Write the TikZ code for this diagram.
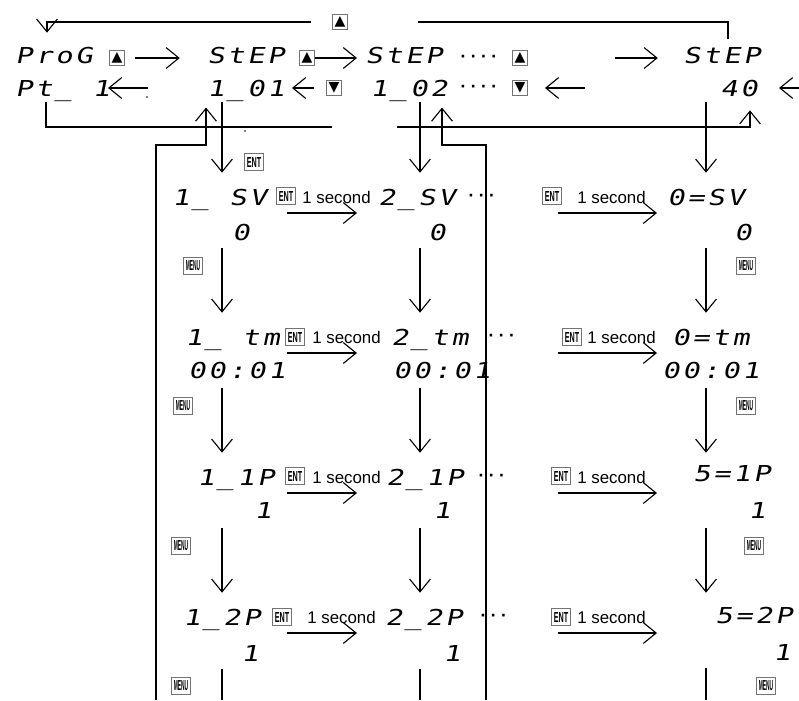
\documentclass[tikz,border=0pt]{standalone}
\usepackage{fontspec}
\setmainfont{Liberation Sans}
\newfontfamily\segfont[FakeSlant=0.2, FakeStretch=1.3, LetterSpace=13]{DejaVu Sans Mono}
\newfontfamily\symfont{DejaVu Sans}
\usetikzlibrary{positioning, calc, arrows.meta}
\tikzset{
  seg/.style={font=\segfont\fontsize{15.6}{16}\selectfont, inner sep=0pt, text height=11.4pt, text depth=0pt, anchor=west},
  segc/.style={seg, anchor=center},
  keybox/.style={draw=black!55, line width=0.5pt, inner sep=0pt, minimum width=0.47cm, minimum height=0.43cm, font=\bfseries},
  trikey/.style={draw=black!55, line width=0.5pt, inner sep=0pt, minimum size=0.37cm, font=\symfont\fontsize{10}{10}\selectfont},
  secnote/.style={font=\fontsize{12}{12}\selectfont, inner sep=0pt, anchor=west},
  dotrow/.style={font=\symfont\bfseries\fontsize{10}{10}\selectfont, inner sep=0pt, anchor=west},
  flow/.style={line width=0.8pt},
  arr/.style={flow, -{Straight Barb[length=3.2mm,width=5.2mm]}},
}
\newcommand\keylbl[1]{\resizebox{0.36cm}{0.25cm}{#1}}

\begin{document}
\begin{tikzpicture}[x=0.025cm, y=-0.025cm]
  \useasboundingbox (0,0) rectangle (799,700);
  %% columns, rows and loose ends
  \coordinate (colA) at (222,0);
  \coordinate (colB) at (420,0);
  \coordinate (colC) at (706,0);
  \coordinate (bottom) at (0,700);
  \coordinate (wallA) at (156,0);
  \coordinate (wallB) at (486,0);
  \coordinate (retA) at (206,145);
  \coordinate (retB) at (442,145);
  \coordinate (topR) at (728,0);
  \coordinate (topL) at (47,0);
  \coordinate (lowL) at (46,127);
  \coordinate (gapL) at (332,127);
  \coordinate (gapR) at (397,127);
  \coordinate (in40) at (750,127);
  \coordinate (ptTip) at (108,88);
  \coordinate (ptTail) at (148,88);
  \coordinate (oneTip) at (292,88);
  \coordinate (backB) at (585,88);
  \coordinate (edgeR) at (800,88);
  \coordinate (eA) at (287,0);
  \coordinate (eB) at (357,0);
  \coordinate (eC) at (558,0);
  \coordinate (eD) at (657,0);
  \coordinate (rSV) at (0,213);
  \coordinate (rTM) at (0,353);
  \coordinate (rIP) at (0,493);
  \coordinate (rTP) at (0,633);

  %% program / step selection rows
  \node[seg] (prog) at (15,55) {ProG};
  \node[trikey] (upA) at (117,58) {▲};
  \node[seg] (step1) at (207,55) {StEP};
  \node[trikey] (upB) at (307,58) {▲};
  \node[seg] (step2) at (365,55) {StEP};
  \node[dotrow] (dotsA) at (460,58) {· · · ·};
  \node[trikey] (upC) at (520,58) {▲};
  \node[seg] (step3) at (683,55) {StEP};
  \node[trikey] (upTop) at (340,22) {▲};
  \node[seg] (pt1) at (15,88) {Pt\_ 1};
  \node[seg] (s101) at (207,88) {1\_01};
  \node[trikey] (dnA) at (334,88) {▼};
  \node[seg] (s102) at (370,88) {1\_02};
  \node[dotrow] (dotsB) at (460,88) {· · · ·};
  \node[trikey] (dnB) at (520,88) {▼};
  \node[seg] (s40) at (720,88) {40};

  \draw[arr, shorten <=0.25cm, shorten >=0.68cm] (upA.east) -- (upA.east -| step1.west);
  \draw[arr, shorten >=0.2cm] (upB.east) -- (upB.east -| step2.west);
  \draw[arr, shorten <=2.18cm, shorten >=0.63cm] (upC.east) -- (upC.east -| step3.west);
  \draw[arr] (ptTail) -- (ptTip);
  \draw[arr, shorten <=0.3cm] (dnA.west) -- (oneTip);
  \draw[arr, shorten >=0.43cm] (backB) -- (dnB.east);
  \draw[arr] (edgeR) -- ++(-21,0);
  \fill (147,97) circle (0.6pt);
  \fill (245,131) circle (0.6pt);

  %% return loop to ProG
  \draw[flow, shorten <=0.2cm, shorten >=1.75cm] (step3.north -| topR) |- (upTop.east);
  \draw[arr, shorten <=0.53cm, shorten >=0.35cm] (upTop.west) -| (prog.north -| topL);
  %% Pt line to 40
  \draw[flow, shorten <=0.15cm] (pt1.south -| lowL) -- (lowL) -- (gapL);
  \draw[arr, shorten >=0.35cm] (gapR) -- (in40) -- (in40 |- s40.south);

  %% parameter columns
  \node[seg] (sv1) at (172,197) {1\_ SV};
  \node[seg] (sv2) at (378,197) {2\_SV};
  \node[seg] (sv3) at (667,197) {0=SV};
  \node[segc] (sv1v) at (241,232) {0};
  \node[segc] (sv2v) at (437,232) {0};
  \node[segc] (sv3v) at (743,232) {0};
  \node[seg] (tm1) at (185,337) {1\_ tm};
  \node[seg] (tm2) at (391,337) {2\_tm};
  \node[seg] (tm3) at (672,337) {0=tm};
  \node[seg] (tm1v) at (188,370) {00:01};
  \node[seg] (tm2v) at (393,370) {00:01};
  \node[seg] (tm3v) at (662,370) {00:01};
  \node[seg] (ip1) at (197,477) {1\_1P};
  \node[seg] (ip2) at (386,477) {2\_1P};
  \node[seg] (ip3) at (693,473) {5=1P};
  \node[segc] (ip1v) at (263,510) {1};
  \node[segc] (ip2v) at (442,510) {1};
  \node[segc] (ip3v) at (757,510) {1};
  \node[seg] (tp1) at (183,617) {1\_2P};
  \node[seg] (tp2) at (385,617) {2\_2P};
  \node[seg] (tp3) at (715,615) {5=2P};
  \node[segc] (tp1v) at (250,653) {1};
  \node[segc] (tp2v) at (452,653) {1};
  \node[segc] (tp3v) at (782,652) {1};
  \node[dotrow] (dotsSV) at (468,197) {· · ·};
  \node[dotrow] (dotsTM) at (488,337) {· · ·};
  \node[dotrow] (dotsIP) at (478,477) {· · ·};
  \node[dotrow] (dotsTP) at (480,617) {· · ·};

  %% ENT / MENU keys
  \node[keybox] (entTop) at (254,162) {\keylbl{ENT}};
  \node[keybox] (entSVa) at (286,196) {\keylbl{ENT}};
  \node[keybox] (entSVb) at (552,196) {\keylbl{ENT}};
  \node[keybox] (entTMa) at (295,337) {\keylbl{ENT}};
  \node[keybox] (entTMb) at (572,337) {\keylbl{ENT}};
  \node[keybox] (entIPa) at (295,476) {\keylbl{ENT}};
  \node[keybox] (entIPb) at (561,476) {\keylbl{ENT}};
  \node[keybox] (entTPa) at (282,617) {\keylbl{ENT}};
  \node[keybox] (entTPb) at (561,617) {\keylbl{ENT}};
  \node[secnote] (secSVa) at (302,197) {1 second};
  \node[secnote] (secSVb) at (577,197) {1 second};
  \node[secnote] (secTMa) at (312,337) {1 second};
  \node[secnote] (secTMb) at (587,337) {1 second};
  \node[secnote] (secIPa) at (312,477) {1 second};
  \node[secnote] (secIPb) at (577,477) {1 second};
  \node[secnote] (secTPa) at (307,617) {1 second};
  \node[secnote] (secTPb) at (577,617) {1 second};
  \node[keybox] (menuA1) at (193,266) {\keylbl{MENU}};
  \node[keybox] (menuA2) at (183,406) {\keylbl{MENU}};
  \node[keybox] (menuA3) at (181,546) {\keylbl{MENU}};
  \node[keybox] (menuA4) at (181,686) {\keylbl{MENU}};
  \node[keybox] (menuC1) at (746,266) {\keylbl{MENU}};
  \node[keybox] (menuC2) at (746,406) {\keylbl{MENU}};
  \node[keybox] (menuC3) at (754,546) {\keylbl{MENU}};
  \node[keybox] (menuC4) at (766,686) {\keylbl{MENU}};

  %% 1 second arrows
  \draw[arr] (eA |- rSV) -- (eB |- rSV);
  \draw[arr] (eC |- rSV) -- (eD |- rSV);
  \draw[arr] (eA |- rTM) -- (eB |- rTM);
  \draw[arr] (eC |- rTM) -- (eD |- rTM);
  \draw[arr] (eA |- rIP) -- (eB |- rIP);
  \draw[arr] (eC |- rIP) -- (eD |- rIP);
  \draw[arr] (eA |- rTP) -- (eB |- rTP);
  \draw[arr] (eC |- rTP) -- (eD |- rTP);

  %% MENU arrows down the columns
  \draw[arr, shorten <=0.15cm, shorten >=0.4cm] (colA |- s101.south) -- (colA |- sv1.north);
  \draw[arr, shorten <=0.15cm, shorten >=0.4cm] (colB |- s102.south) -- (colB |- sv2.north);
  \draw[arr, shorten <=0.15cm, shorten >=0.4cm] (colC |- s40.south) -- (colC |- sv3.north);
  \draw[arr, shorten <=0.2cm, shorten >=0.4cm] (colA |- sv1v.south) -- (colA |- tm1.north);
  \draw[arr, shorten <=0.2cm, shorten >=0.4cm] (colB |- sv2v.south) -- (colB |- tm2.north);
  \draw[arr, shorten <=0.2cm, shorten >=0.4cm] (colC |- sv3v.south) -- (colC |- tm3.north);
  \draw[arr, shorten <=0.25cm, shorten >=0.4cm] (colA |- tm1v.south) -- (colA |- ip1.north);
  \draw[arr, shorten <=0.25cm, shorten >=0.4cm] (colB |- tm2v.south) -- (colB |- ip2.north);
  \draw[arr, shorten <=0.25cm, shorten >=0.3cm] (colC |- tm3v.south) -- (colC |- ip3.north);
  \draw[arr, shorten <=0.25cm, shorten >=0.4cm] (colA |- ip1v.south) -- (colA |- tp1.north);
  \draw[arr, shorten <=0.25cm, shorten >=0.4cm] (colB |- ip2v.south) -- (colB |- tp2.north);
  \draw[arr, shorten <=0.25cm, shorten >=0.35cm] (colC |- ip3v.south) -- (colC |- tp3.north);
  \draw[flow, shorten <=0.18cm] (colA |- tp1v.south) -- (colA |- bottom);
  \draw[flow, shorten <=0.18cm] (colB |- tp2v.south) -- (colB |- bottom);
  \draw[flow, shorten <=0.18cm] (colC |- tp3v.south) -- (colC |- bottom);

  %% inner return loops
  \draw[arr, shorten >=0.28cm] (wallA |- bottom) |- (retA) -- (retA |- s101.south);
  \draw[arr, shorten >=0.28cm] (wallB |- bottom) |- (retB) -- (retB |- s102.south);
\end{tikzpicture}
\end{document}
